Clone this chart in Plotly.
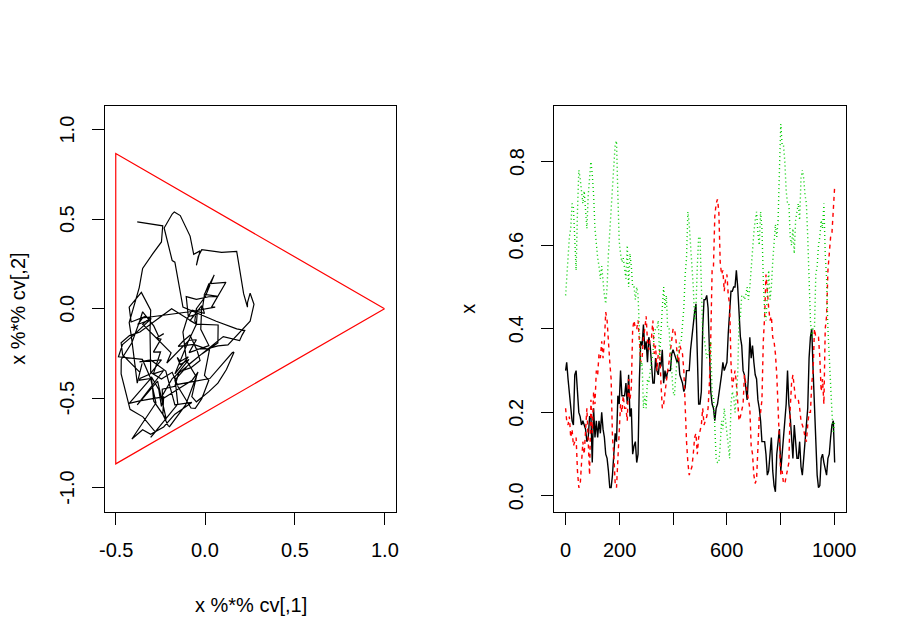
import plotly.graph_objects as go

# ---------------- data (every 5th step) ----------------
t = list(range(0, 1001, 5))
t[0] = 1

comp1 = [0.30, 0.32, 0.28, 0.25, 0.22, 0.18, 0.17, 0.29, 0.30, 0.26,
         0.20, 0.19, 0.17, 0.18, 0.17, 0.16, 0.13, 0.14, 0.19, 0.19,
         0.08, 0.21, 0.14, 0.18, 0.14, 0.18, 0.15, 0.20, 0.16, 0.14,
         0.10, 0.09, 0.06, 0.02, 0.02, 0.05, 0.10, 0.15, 0.13, 0.24,
         0.22, 0.30, 0.24, 0.24, 0.24, 0.27, 0.22, 0.29, 0.19, 0.21,
         0.10, 0.12, 0.13, 0.08, 0.10, 0.28, 0.37, 0.36, 0.41, 0.35,
         0.37, 0.32, 0.38, 0.36, 0.30, 0.27, 0.27, 0.33, 0.30, 0.29,
         0.32, 0.31, 0.35, 0.27, 0.30, 0.28, 0.30, 0.30, 0.30, 0.34,
         0.35, 0.34, 0.33, 0.32, 0.33, 0.29, 0.28, 0.27, 0.25, 0.26,
         0.30, 0.30, 0.30, 0.35, 0.38, 0.42, 0.44, 0.46, 0.35, 0.22,
         0.22, 0.25, 0.40, 0.47, 0.47, 0.48, 0.45, 0.37, 0.25, 0.22,
         0.21, 0.18, 0.21, 0.22, 0.24, 0.26, 0.29, 0.32, 0.30, 0.31,
         0.32, 0.39, 0.45, 0.49, 0.49, 0.50, 0.50, 0.54, 0.50, 0.43,
         0.38, 0.36, 0.30, 0.29, 0.25, 0.23, 0.29, 0.38, 0.33, 0.36,
         0.32, 0.29, 0.28, 0.23, 0.21, 0.18, 0.13, 0.13, 0.13, 0.10,
         0.05, 0.06, 0.11, 0.14, 0.06, 0.025, 0.01, 0.10, 0.13, 0.16,
         0.06, 0.10, 0.13, 0.18, 0.22, 0.30, 0.22, 0.19, 0.13, 0.09,
         0.17, 0.13, 0.09, 0.09, 0.13, 0.07, 0.05, 0.09, 0.14, 0.17,
         0.21, 0.33, 0.38, 0.40, 0.30, 0.21, 0.09, 0.05, 0.02, 0.025,
         0.09, 0.10, 0.08, 0.06, 0.05, 0.09, 0.10, 0.14, 0.17, 0.18,
         0.08]
comp2 = [0.21, 0.18, 0.17, 0.19, 0.14, 0.16, 0.12, 0.13, 0.14, 0.06,
         0.02, 0.025, 0.07, 0.13, 0.10, 0.16, 0.21, 0.13, 0.05, 0.23,
         0.15, 0.25, 0.22, 0.30, 0.29, 0.34, 0.33, 0.37, 0.33, 0.37,
         0.44, 0.42, 0.36, 0.32, 0.28, 0.14, 0.10, 0.03, 0.02, 0.08,
         0.17, 0.22, 0.20, 0.24, 0.21, 0.21, 0.18, 0.28, 0.23, 0.26,
         0.40, 0.42, 0.40, 0.40, 0.42, 0.36, 0.32, 0.33, 0.38, 0.40,
         0.43, 0.37, 0.35, 0.38, 0.38, 0.42, 0.34, 0.36, 0.30, 0.34,
         0.35, 0.27, 0.21, 0.22, 0.25, 0.27, 0.30, 0.32, 0.35, 0.38,
         0.40, 0.40, 0.38, 0.34, 0.32, 0.36, 0.35, 0.34, 0.30, 0.20,
         0.13, 0.08, 0.05, 0.06, 0.07, 0.10, 0.14, 0.15, 0.10, 0.14,
         0.16, 0.17, 0.21, 0.17, 0.18, 0.19, 0.21, 0.27, 0.38, 0.54,
         0.55, 0.67, 0.70, 0.71, 0.68, 0.56, 0.53, 0.54, 0.49, 0.52,
         0.53, 0.48, 0.46, 0.32, 0.26, 0.28, 0.30, 0.27, 0.21, 0.18,
         0.19, 0.21, 0.22, 0.29, 0.27, 0.26, 0.24, 0.21, 0.12, 0.10,
         0.05, 0.03, 0.04, 0.13, 0.19, 0.20, 0.23, 0.37, 0.43, 0.53,
         0.48, 0.45, 0.42, 0.43, 0.38, 0.37, 0.34, 0.29, 0.21, 0.13,
         0.05, 0.06, 0.03, 0.03, 0.05, 0.06, 0.08, 0.21, 0.27, 0.29,
         0.25, 0.23, 0.23, 0.23, 0.21, 0.18, 0.17, 0.16, 0.14, 0.13,
         0.17, 0.20, 0.20, 0.27, 0.30, 0.40, 0.38, 0.38, 0.38, 0.33,
         0.25, 0.28, 0.22, 0.40, 0.43, 0.54, 0.58, 0.62, 0.63, 0.70,
         0.74]
comp3 = [0.48, 0.52, 0.55, 0.62, 0.64, 0.70, 0.69, 0.60, 0.54, 0.68,
         0.78, 0.76, 0.73, 0.70, 0.73, 0.68, 0.64, 0.72, 0.77, 0.80,
         0.77, 0.72, 0.64, 0.60, 0.57, 0.55, 0.52, 0.55, 0.51, 0.48,
         0.46, 0.50, 0.58, 0.64, 0.70, 0.75, 0.79, 0.84, 0.85, 0.72,
         0.61, 0.58, 0.56, 0.57, 0.55, 0.52, 0.60, 0.50, 0.58, 0.55,
         0.50, 0.50, 0.47, 0.50, 0.48, 0.38, 0.31, 0.32, 0.21, 0.24,
         0.21, 0.28, 0.27, 0.30, 0.32, 0.34, 0.39, 0.40, 0.40, 0.42,
         0.33, 0.40, 0.45, 0.50, 0.45, 0.48, 0.40, 0.40, 0.35, 0.30,
         0.25, 0.24, 0.29, 0.33, 0.35, 0.37, 0.37, 0.41, 0.45, 0.53,
         0.57, 0.68, 0.65, 0.60, 0.55, 0.50, 0.42, 0.45, 0.55, 0.62,
         0.62, 0.50, 0.39, 0.38, 0.35, 0.33, 0.34, 0.35, 0.37, 0.24,
         0.24, 0.15, 0.09, 0.08, 0.08, 0.12, 0.18, 0.16, 0.21, 0.18,
         0.15, 0.12, 0.09, 0.22, 0.25, 0.24, 0.20, 0.24, 0.29, 0.42,
         0.43, 0.48, 0.48, 0.47, 0.48, 0.50, 0.47, 0.50, 0.55, 0.58,
         0.63, 0.66, 0.68, 0.63, 0.60, 0.68, 0.64, 0.52, 0.44, 0.42,
         0.47, 0.54, 0.47, 0.50, 0.56, 0.60, 0.65, 0.62, 0.66, 0.78,
         0.89, 0.84, 0.84, 0.80, 0.73, 0.70, 0.70, 0.62, 0.60, 0.64,
         0.58, 0.66, 0.68, 0.70, 0.66, 0.76, 0.78, 0.76, 0.72, 0.70,
         0.62, 0.50, 0.42, 0.38, 0.40, 0.40, 0.53, 0.55, 0.60, 0.62,
         0.66, 0.64, 0.70, 0.58, 0.52, 0.40, 0.32, 0.26, 0.20, 0.15,
         0.18]

# simplex vertices (rows of cv)
cv = [[1.0, 0.0], [-0.5, 0.8660254], [-0.5, -0.8660254]]

left_xticks = [-0.5, 0.0, 0.5, 1.0]
left_yticks = [-1.0, -0.5, 0.0, 0.5, 1.0]
right_xticks = [0, 200, 400, 600, 800, 1000]
right_xlabels = ["0", "200", "", "600", "", "1000"]
right_yticks = [0.0, 0.2, 0.4, 0.6, 0.8]

# ---------------- projection x %*% cv ----------------
px, py = [], []
for a, b, c in zip(comp1, comp2, comp3):
    s = a + b + c
    a, b, c = a / s, b / s, c / s
    px.append(a * cv[0][0] + b * cv[1][0] + c * cv[2][0])
    py.append(a * cv[0][1] + b * cv[1][1] + c * cv[2][1])

tri_x = [v[0] for v in cv] + [cv[0][0]]
tri_y = [v[1] for v in cv] + [cv[0][1]]

W, H = 900, 643
FONT = "Liberation Sans, Arial, sans-serif"
FS = 20
LW = 1.2

fig = go.Figure()
fig.add_trace(go.Scatter(x=px, y=py, mode="lines", line=dict(color="black", width=LW),
                         xaxis="x", yaxis="y", showlegend=False))
fig.add_trace(go.Scatter(x=tri_x, y=tri_y, mode="lines", line=dict(color="#FF0000", width=LW),
                         xaxis="x", yaxis="y", showlegend=False))

fig.add_trace(go.Scatter(x=t, y=comp1, mode="lines", line=dict(color="black", width=1.4),
                         xaxis="x2", yaxis="y2", showlegend=False))
fig.add_trace(go.Scatter(x=t, y=comp2, mode="lines",
                         line=dict(color="#FF0000", width=1.4, dash="4px,4px"),
                         xaxis="x2", yaxis="y2", showlegend=False))
fig.add_trace(go.Scatter(x=t, y=comp3, mode="lines",
                         line=dict(color="#00CD00", width=1.4, dash="1px,3px"),
                         xaxis="x2", yaxis="y2", showlegend=False))

box_l = (105 / W, 396 / W)
box_r = (554.3 / W, 845.7 / W)
ydom = (1 - 511.7 / H, 1 - 105.7 / H)

axis_common = dict(showgrid=False, zeroline=False, showline=True, mirror=True,
                   linecolor="black", linewidth=1, ticks="outside", ticklen=12,
                   tickwidth=1, tickcolor="black", showticklabels=False, fixedrange=True)

fig.update_layout(
    width=W, height=H, margin=dict(l=0, r=0, t=0, b=0),
    paper_bgcolor="white", plot_bgcolor="white",
    xaxis=dict(domain=box_l, range=[-0.56, 1.064], tickvals=left_xticks, anchor="y", **axis_common),
    yaxis=dict(domain=ydom, range=[-1.133, 1.133], tickvals=left_yticks, anchor="x", **axis_common),
    xaxis2=dict(domain=box_r, range=[-41, 1041], tickvals=right_xticks, anchor="y2", **axis_common),
    yaxis2=dict(domain=ydom, range=[-0.0376, 0.934], tickvals=right_yticks, anchor="x2", **axis_common),
)

ann = []
lab_y = 1 - 550 / H
for v in left_xticks:
    ann.append(dict(x=v, xref="x", y=lab_y, yref="paper", text=f"{v:.1f}", showarrow=False,
                    xanchor="center", yanchor="middle"))
for v, s in zip(right_xticks, right_xlabels):
    if s:
        ann.append(dict(x=v, xref="x2", y=lab_y, yref="paper", text=s, showarrow=False,
                        xanchor="center", yanchor="middle"))
for v in left_yticks:
    ann.append(dict(x=(105 - 38) / W, xref="paper", y=v, yref="y", text=f"{v:.1f}", showarrow=False,
                    textangle=-90, xanchor="center", yanchor="middle"))
for v in right_yticks:
    ann.append(dict(x=(554.3 - 38) / W, xref="paper", y=v, yref="y2", text=f"{v:.1f}", showarrow=False,
                    textangle=-90, xanchor="center", yanchor="middle"))
# axis titles
ann.append(dict(x=(box_l[0] + box_l[1]) / 2, xref="paper", y=1 - 605 / H, yref="paper",
                text="x %*% cv[,1]", showarrow=False, xanchor="center", yanchor="middle"))
ann.append(dict(x=18 / W, xref="paper", y=(ydom[0] + ydom[1]) / 2, yref="paper",
                text="x %*% cv[,2]", showarrow=False, textangle=-90, xanchor="center", yanchor="middle"))
ann.append(dict(x=468 / W, xref="paper", y=(ydom[0] + ydom[1]) / 2, yref="paper",
                text="x", showarrow=False, textangle=-90, xanchor="center", yanchor="middle"))
for a in ann:
    a["font"] = dict(family=FONT, size=FS, color="black")
fig.update_layout(annotations=ann)

fig.write_html("out.html", config={"displayModeBar": False},
               post_script="document.body.style.margin='0px';")
